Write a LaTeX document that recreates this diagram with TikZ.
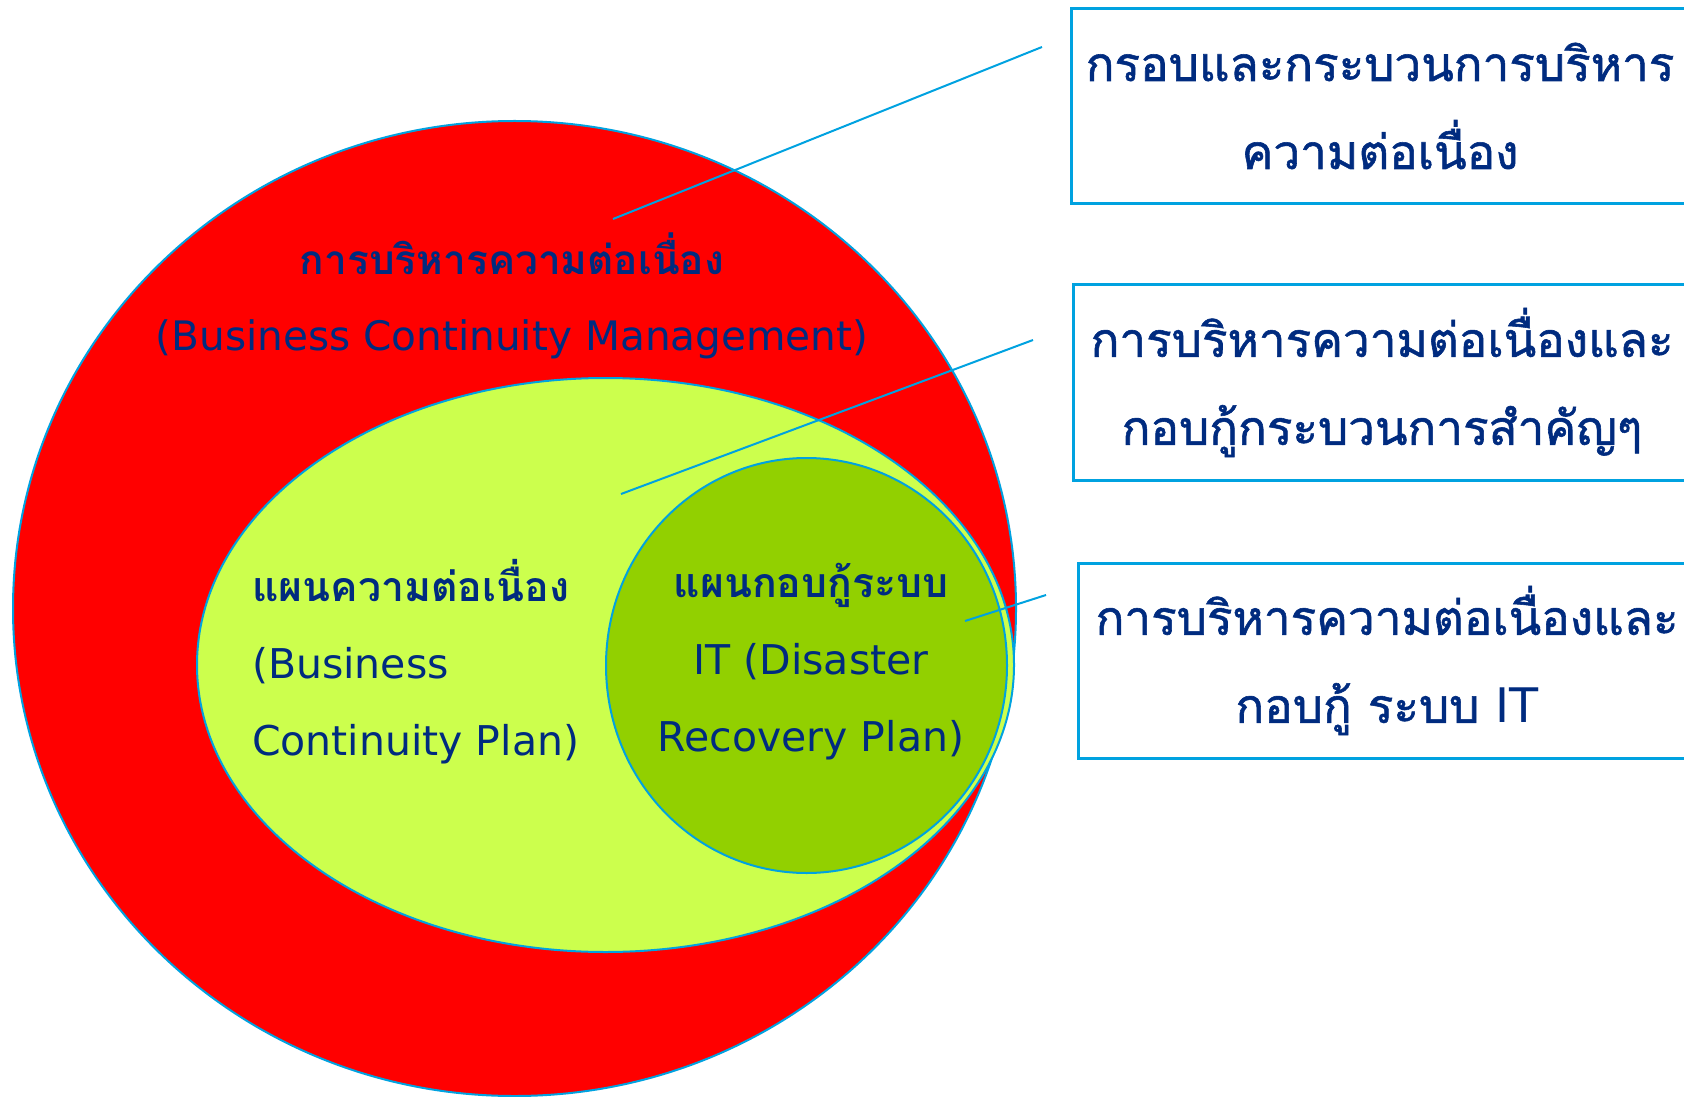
\documentclass[tikz,border=0pt]{standalone}
\usepackage{fontspec}
\setmainfont[Script=Thai]{Loma}
\newfontfamily\boxfont[Script=Thai, FakeBold=1.2]{Loma}
\newfontfamily\latinfont{DejaVu Sans}
\usetikzlibrary{shapes.geometric}
\definecolor{bcmred}{RGB}{255,0,0}
\definecolor{bcpgreen}{RGB}{204,255,77}
\definecolor{drpgreen}{RGB}{146,208,0}
\definecolor{edgeblue}{RGB}{0,162,224}
\definecolor{textnavy}{RGB}{0,43,127}
\tikzset{
  zone/.style={draw=edgeblue, line width=1pt, ellipse, inner sep=0pt},
  zonetext/.style={text=textnavy, font=\fontsize{20.5}{38.5}\selectfont},
  labelbox/.style={draw=edgeblue, line width=1.5pt, minimum width=309pt, minimum height=97.5pt,
    align=center, text=textnavy, font=\boxfont\fontsize{23.8}{44}\selectfont},
  pointer/.style={draw=edgeblue, line width=1pt},
}

\begin{document}
\begin{tikzpicture}[x=0.5pt, y=-0.5pt]
        \useasboundingbox (0,0) rectangle (1684,1096);

        % nested zones
        \node[zone, fill=bcmred, minimum width=501.5pt, minimum height=487.5pt] (bcm) at (514.5,608.5) {};
        \node[zone, fill=bcpgreen, minimum width=408.5pt, minimum height=287pt] (bcp) at (605.5,665) {};
        \node[zone, fill=drpgreen, minimum width=200.5pt, minimum height=207.5pt] (drp) at (806.5,665.5) {};

        % zone labels
        \node[zonetext, align=center, font=\fontsize{20.3}{38}\selectfont] (bcmtext) at (512,296)
            {\textbf{การบริหารความต่อเนื่อง}\\{\latinfont (Business Continuity Management)}};
        \node[zonetext, align=left, anchor=west] (bcptext) at (245,662)
            {\textbf{แผนความต่อเนื่อง}\\{\latinfont (Business}\\{\latinfont Continuity Plan)}};
        \node[zonetext, align=center] (drptext) at (811,662)
            {\textbf{แผนกอบกู้ระบบ}\\{\latinfont IT (Disaster}\\{\latinfont Recovery Plan)}};

        % description boxes
        \node[labelbox] (frame) at (1380,106) {กรอบและกระบวนการบริหาร\\ความต่อเนื่อง};
        \node[labelbox] (process) at (1382,382.5) {การบริหารความต่อเนื่องและ\\กอบกู้กระบวนการสำคัญๆ};
        \node[labelbox] (itsys) at (1387,660.5) {การบริหารความต่อเนื่องและ\\กอบกู้ ระบบ {\latinfont IT}};

        % pointer lines
        \coordinate (p1a) at (613,219);
        \coordinate (p1b) at (1042,47);
        \coordinate (p2a) at (621,494);
        \coordinate (p2b) at (1033,340);
        \coordinate (p3a) at (965,621);
        \coordinate (p3b) at (1046,595);
        \draw[pointer] (p1a) -- (p1b);
        \draw[pointer] (p2a) -- (p2b);
        \draw[pointer] (p3a) -- (p3b);
\end{tikzpicture}
\end{document}
